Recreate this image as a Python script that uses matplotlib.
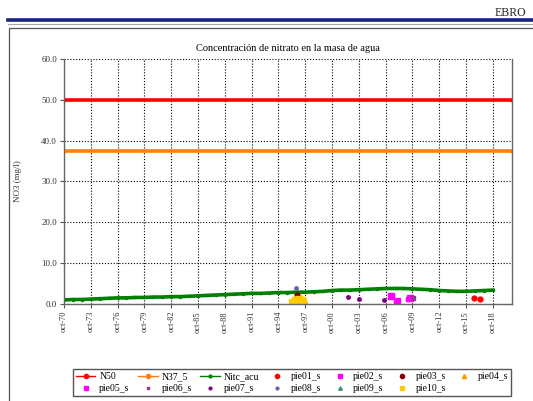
import numpy as np
import matplotlib
matplotlib.use("Agg")
import matplotlib.pyplot as plt
from matplotlib.lines import Line2D

plt.rcParams['font.family'] = ['Liberation Serif', 'DejaVu Serif']

# --- datos (años decimales, oct = .75) ---
anios_nitc = [1970.75, 1971.75, 1972.75, 1973.75, 1974.75, 1975.75, 1976.75, 1977.75,
              1978.75, 1979.75, 1980.75, 1981.75, 1982.75, 1983.75, 1984.75, 1985.75,
              1986.75, 1987.75, 1988.75, 1989.75, 1990.75, 1991.75, 1992.75, 1993.75,
              1994.75, 1995.75, 1996.75, 1997.75, 1998.75, 1999.75, 2000.75, 2001.75,
              2002.75, 2003.75, 2004.75, 2005.75, 2006.75, 2007.75, 2008.75, 2009.75,
              2010.75, 2011.75, 2012.75, 2013.75, 2014.75, 2015.75, 2016.75, 2017.75,
              2018.75]
nitc_acu = [1.0, 1.1, 1.1, 1.2, 1.3, 1.4, 1.5, 1.5, 1.6, 1.6, 1.7, 1.7, 1.8, 1.8,
            1.9, 2.0, 2.1, 2.2, 2.3, 2.4, 2.5, 2.6, 2.6, 2.7, 2.8, 2.8, 2.9, 2.9,
            3.0, 3.1, 3.3, 3.4, 3.4, 3.5, 3.6, 3.7, 3.8, 3.8, 3.8, 3.7, 3.6, 3.5,
            3.3, 3.2, 3.1, 3.1, 3.2, 3.3, 3.4]

n50 = 50.0
n37_5 = 37.5

pie01_x = [2016.6, 2017.3]
pie01_y = [1.5, 1.2]
pie02_x = [2007.4, 2008.0, 2009.5]
pie02_y = [2.0, 0.8, 1.4]
pie03_x = [1996.8]
pie03_y = [2.2]
pie04_x = [1997.3, 1997.6, 1996.9]
pie04_y = [1.5, 1.0, 0.9]
pie05_x = [2009.3]
pie05_y = [1.3]
pie06_x = [2009.8]
pie06_y = [1.4]
pie07_x = [2002.5, 2003.8, 2006.6]
pie07_y = [1.6, 1.2, 0.9]
pie08_x = [1996.7]
pie08_y = [4.0]
pie09_x = []
pie09_y = []
pie10_x = [1996.3, 1996.6, 1996.9, 1997.2, 1997.5, 1996.5, 1997.0, 1997.4]
pie10_y = [0.5, 1.0, 0.4, 0.7, 0.4, 0.2, 1.2, 1.0]

tick_anios = list(range(1970, 2019, 3))
tick_labels = [f"oct-{a % 100:02d}" for a in tick_anios]

# --- figura ---
fig = plt.figure(figsize=(5.33, 4.01), dpi=100)

# cabecera: EBRO y línea azul
fig.text(0.988, 0.968, "EBRO", ha='right', va='center', fontsize=8.5, color='#222222')
fig.add_artist(Line2D([0.015, 1.0], [0.949, 0.949], color='#1a237e', lw=2.6))
fig.add_artist(Line2D([0.015, 1.0], [0.941, 0.941], color='#aaaaaa', lw=0.8))
# marco exterior
fig.add_artist(Line2D([0.016, 0.016, 1.0], [0.0, 0.931, 0.931], color='#555555', lw=0.9))

ax = fig.add_axes([0.120, 0.2419, 0.8406, 0.6110])

ax.axhline(n50, color='#ff0000', lw=2.6, marker='o', ms=2)
ax.axhline(n37_5, color='#ff7f10', lw=2.6, marker='o', ms=2)
ax.plot(anios_nitc, nitc_acu, color='#008000', lw=2.6, marker='o', ms=1.5)

ax.plot(pie01_x, pie01_y, ls='none', marker='o', ms=3.5, color='#ff0000')
ax.plot(pie02_x, pie02_y, ls='none', marker='s', ms=4, color='#ff00ff')
ax.plot(pie03_x, pie03_y, ls='none', marker='o', ms=3.5, color='#800000')
ax.plot(pie04_x, pie04_y, ls='none', marker='^', ms=4, color='#ff9900')
ax.plot(pie05_x, pie05_y, ls='none', marker='s', ms=2.5, color='#ff00ff')
ax.plot(pie06_x, pie06_y, ls='none', marker='s', ms=2.5, color='#993399')
ax.plot(pie07_x, pie07_y, ls='none', marker='o', ms=2.5, color='#800080')
ax.plot(pie08_x, pie08_y, ls='none', marker='o', ms=2.5, color='#6666aa')
ax.plot(pie09_x, pie09_y, ls='none', marker='^', ms=2.5, color='#339966')
ax.plot(pie10_x, pie10_y, ls='none', marker='s', ms=4, color='#ffcc00')

ax.set_xlim(1970.75, 2020.9)
ax.set_ylim(0, 60)
ax.set_yticks(np.arange(0, 61, 10))
ax.set_yticklabels([f"{v:.1f}" for v in np.arange(0, 61, 10)], fontsize=6.5, color='#333333')
ax.set_xticks([a + 0.75 for a in tick_anios])
ax.set_xticklabels(tick_labels, rotation=90, fontsize=6, color='#333333')
ax.tick_params(length=3, width=0.8, color='#555555', pad=2)
ax.set_ylabel("NO3 (mg/l)", fontsize=6.5, labelpad=14, color='#333333')
ax.set_title("Concentración de nitrato en la masa de agua", fontsize=7.5, pad=6)

ax.grid(True, color='black', ls=(0, (1, 1.6)), lw=0.8)
ax.spines['top'].set_visible(False)
for s in ['left', 'bottom', 'right']:
    ax.spines[s].set_color('#666666')
    ax.spines[s].set_linewidth(1.0)

# leyenda (se rellena por columnas: reordenar para leer por filas)
handles = [
    Line2D([], [], color='#ff0000', lw=1, marker='o', ms=3),
    Line2D([], [], color='#ff7f10', lw=1, marker='o', ms=3),
    Line2D([], [], color='#008000', lw=1, marker='o', ms=2),
    Line2D([], [], ls='none', marker='o', ms=3, color='#ff0000'),
    Line2D([], [], ls='none', marker='s', ms=3.5, color='#ff00ff'),
    Line2D([], [], ls='none', marker='o', ms=3, color='#800000'),
    Line2D([], [], ls='none', marker='^', ms=3, color='#ff9900'),
    Line2D([], [], ls='none', marker='s', ms=2.5, color='#ff00ff'),
    Line2D([], [], ls='none', marker='s', ms=2, color='#993399'),
    Line2D([], [], ls='none', marker='o', ms=2, color='#800080'),
    Line2D([], [], ls='none', marker='o', ms=2, color='#6666aa'),
    Line2D([], [], ls='none', marker='^', ms=2.5, color='#339966'),
    Line2D([], [], ls='none', marker='s', ms=3.5, color='#ffcc00'),
]
labels = ["N50", "N37_5", "Nitc_acu", "pie01_s", "pie02_s", "pie03_s", "pie04_s",
          "pie05_s", "pie06_s", "pie07_s", "pie08_s", "pie09_s", "pie10_s"]
orden = [0, 7, 1, 8, 2, 9, 3, 10, 4, 11, 5, 12, 6]
leg = fig.legend([handles[i] for i in orden], [labels[i] for i in orden], ncol=7, loc='lower left',
                 bbox_to_anchor=(0.137, 0.0125, 0.822, 0.085), mode='expand',
                 fontsize=7, fancybox=False, framealpha=1, edgecolor='#555555',
                 handlelength=2.0, handletextpad=0.4, borderaxespad=0,
                 labelspacing=0.3, columnspacing=0.8, borderpad=0.3)
leg.get_frame().set_linewidth(1.0)

fig.savefig("out.png", dpi=100)
